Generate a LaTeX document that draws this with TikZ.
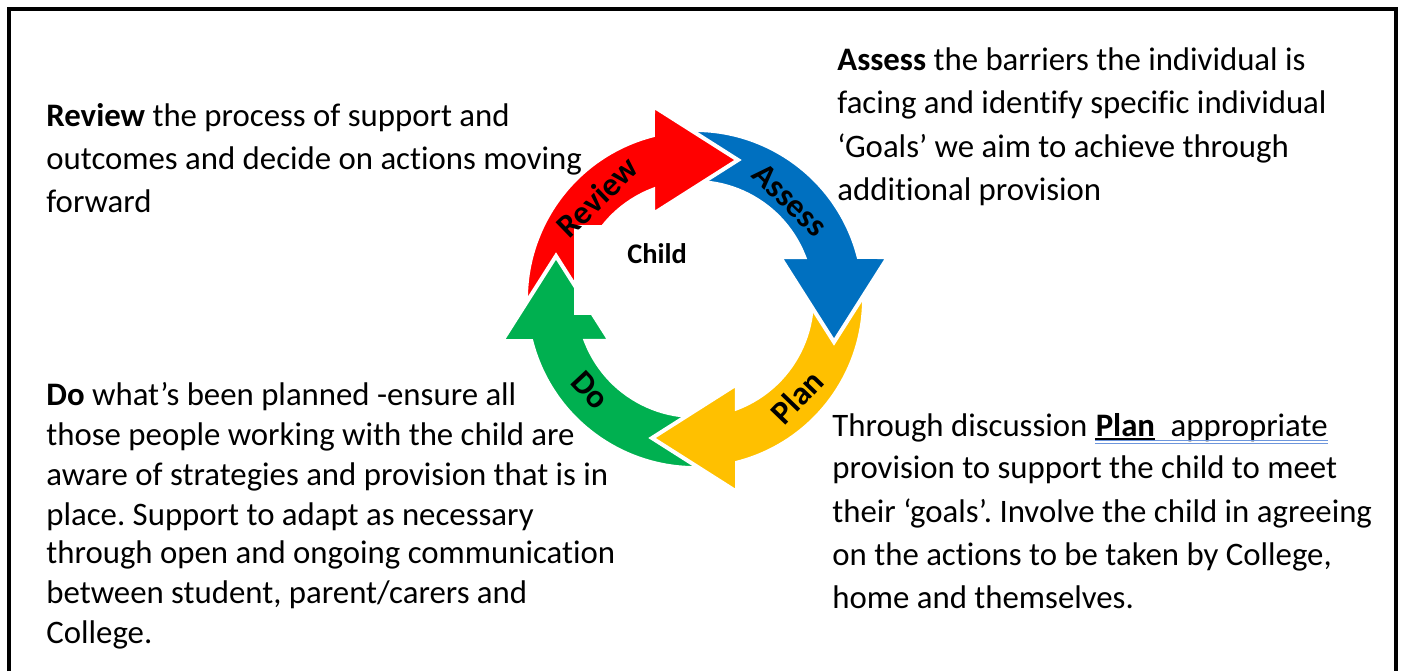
\documentclass[tikz,border=0pt]{standalone}
\usepackage{fontspec}
\setmainfont{Carlito}[RawFeature={-liga}]
\frenchspacing
\definecolor{cred}{RGB}{255,0,0}
\definecolor{cblue}{RGB}{0,112,192}
\definecolor{cyellow}{RGB}{255,192,0}
\definecolor{cgreen}{RGB}{0,176,80}
\definecolor{ulblue}{RGB}{110,150,220}
\begin{document}
\begin{tikzpicture}[x=0.5pt,y=-0.5pt,
  body/.style={anchor=base west, inner sep=0pt, font=\fontsize{16.4}{20}\selectfont},
  lbl/.style={inner sep=0pt, font=\fontsize{16.5}{20}\selectfont\bfseries},
  arrowshape/.style={insert path={(194.4:169) arc[start angle=194.4, end angle=104.4, radius=169] -- (-42,193) -- (43,139) -- (-42,85) -- (111:117) arc[start angle=111, end angle=201, radius=117] -- cycle}},
  cyc/.style={draw=white, line width=2pt, line join=miter}
]
\useasboundingbox (0,0) rectangle (1404,671);
% frame
\draw[line width=2pt] (8.8,671) -- (8.8,8.8) -- (1396.3,8.8) -- (1396.3,671);

% cycle arrows
\begin{scope}[shift={(695,299)}, y=0.5pt]
  \path[cyc, fill=cgreen, rotate=90, arrowshape];
  \path[cyc, fill=cyellow, rotate=180, arrowshape];
  \path[cyc, fill=cblue, rotate=-90, arrowshape];
  \path[cyc, fill=cred, arrowshape];
  \begin{scope}
    \clip (-250,-46) rectangle (-40,80);
    \path[cyc, fill=cgreen, rotate=90, arrowshape];
  \end{scope}
\end{scope}

% centre box
\node[fill=white, inner sep=0pt, minimum width=83pt, minimum height=45pt] (childbox) at (657,270) {};
\node[inner sep=0pt, font=\fontsize{14.2}{17}\selectfont\bfseries] (child) at (657,254) {Child};

% arrow labels
\node[lbl, rotate=44] (lreview) at (597,197) {Review};
\node[lbl, rotate=-44] (lassess) at (790,200) {Assess};
\node[lbl, rotate=46] (lplan) at (797,397) {Plan};
\node[lbl, rotate=-47] (ldo) at (590,390) {Do};

% Review text
\node[body] (r1) at (46,126) {\textbf{Review} the process of support and};
\node[body] (r2) at (46,169) {outcomes and decide on actions moving};
\node[body] (r3) at (46,212) {forward};

% Assess text
\node[body] (a1) at (837,70) {\textbf{Assess} the barriers the individual is};
\node[body] (a2) at (837,113) {facing and identify specific individual};
\node[body] (a3) at (837,157) {‘Goals’ we aim to achieve through};
\node[body] (a4) at (837,200) {additional provision};

% Do text
\node[body] (d1) at (46,405) {\textbf{Do} what’s been planned -ensure all};
\node[body] (d2) at (46,445) {those people working with the child are};
\node[body] (d3) at (46,485) {aware of strategies and provision that is in};
\node[body] (d4) at (46,525) {place. Support to adapt as necessary};
\node[body] (d5) at (46,563) {through open and ongoing communication};
\node[body] (d6) at (46,603) {between student, parent/carers and};
\node[body] (d7) at (46,643) {College.};

% Plan text
\node[body] (p1a) at (832,436) {Through discussion};
\node[body] (p1b) at ([xshift=3.7pt]p1a.base east) {\textbf{Plan}};
\node[body] (p1c) at (p1b.base east) {\ \ appropriate};
\draw[line width=1.2pt] ([yshift=-1.4pt]p1b.base west) -- ([yshift=-1.4pt]p1b.base east);
\draw[ulblue, line width=0.5pt] ([yshift=-2.3pt]p1b.base west) -- ([yshift=-2.3pt]p1c.base east);
\draw[ulblue, line width=0.5pt] ([yshift=-3.5pt]p1b.base west) -- ([yshift=-3.5pt]p1c.base east);
\node[body] (p2) at (832,478) {provision to support the child to meet};
\node[body] (p3) at (832,522) {their ‘goals’. Involve the child in agreeing};
\node[body] (p4) at (832,565) {on the actions to be taken by College,};
\node[body] (p5) at (832,608) {home and themselves.};
\end{tikzpicture}
\end{document}
